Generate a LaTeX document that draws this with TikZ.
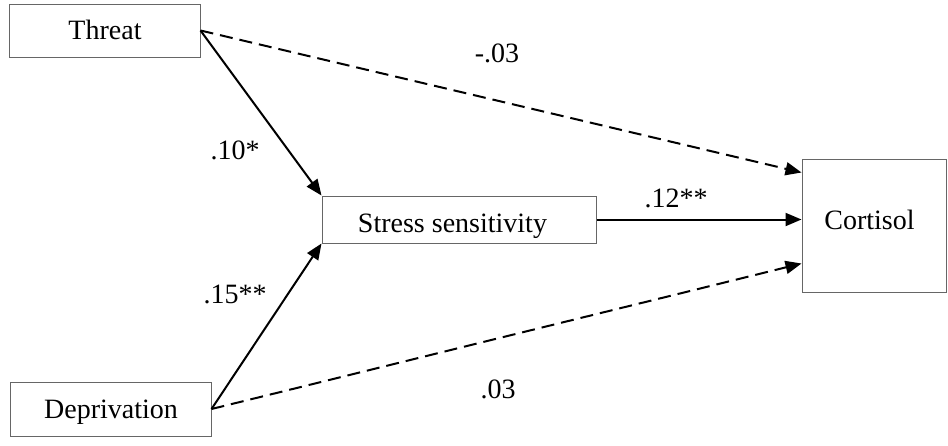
\documentclass[tikz,border=0pt]{standalone}
\usepackage{fontspec}
\setmainfont{Liberation Serif}
\usetikzlibrary{arrows.meta}
\begin{document}
\begin{tikzpicture}[x=1pt,y=-1pt,
  box/.style={draw=black!60, line width=1pt, inner sep=0pt},
  txt/.style={anchor=base, inner sep=0pt, font=\fontsize{28}{32}\selectfont},
  lbl/.style={anchor=base, inner sep=0pt, font=\fontsize{28}{32}\selectfont},
  arr/.style={line width=2pt, -{Triangle[length=16pt,width=13pt]}},
  darr/.style={arr, dash pattern=on 13pt off 7pt}]
\useasboundingbox (0,0) rectangle (948,445);
% boxes
\node[box, minimum width=191pt, minimum height=53pt] (threat) at (104.5,30.5) {};
\node[box, minimum width=274pt, minimum height=47pt] (stress) at (459,219.5) {};
\node[box, minimum width=201pt, minimum height=54pt] (depriv) at (110.5,409) {};
\node[box, minimum width=144pt, minimum height=133pt] (cortisol) at (874,225.5) {};
% texts
\node[txt] (threatT) at (105,39) {Threat};
\node[txt] (stressT) at (452.5,232.5) {Stress sensitivity};
\node[txt] (deprivT) at (111,418) {Deprivation};
\node[txt] (cortisolT) at (869.5,229) {Cortisol};
% connectors
\draw[arr] (threat.east) -- (stress.north west);
\draw[darr] (threat.east) -- ([yshift=-14pt]cortisol.north west);
\draw[arr] (depriv.east) -- (stress.south west);
\draw[darr] (depriv.east) -- ([yshift=29pt]cortisol.south west);
\draw[arr] (stress.east) -- (stress.east -| cortisol.west);
% labels
\node[lbl] (l1) at (497,62) {-.03};
\node[lbl] (l2) at (235,159) {.10*};
\node[lbl] (l3) at (676,207) {.12**};
\node[lbl] (l4) at (235,303) {.15**};
\node[lbl] (l5) at (498,398) {.03};
\end{tikzpicture}
\end{document}
